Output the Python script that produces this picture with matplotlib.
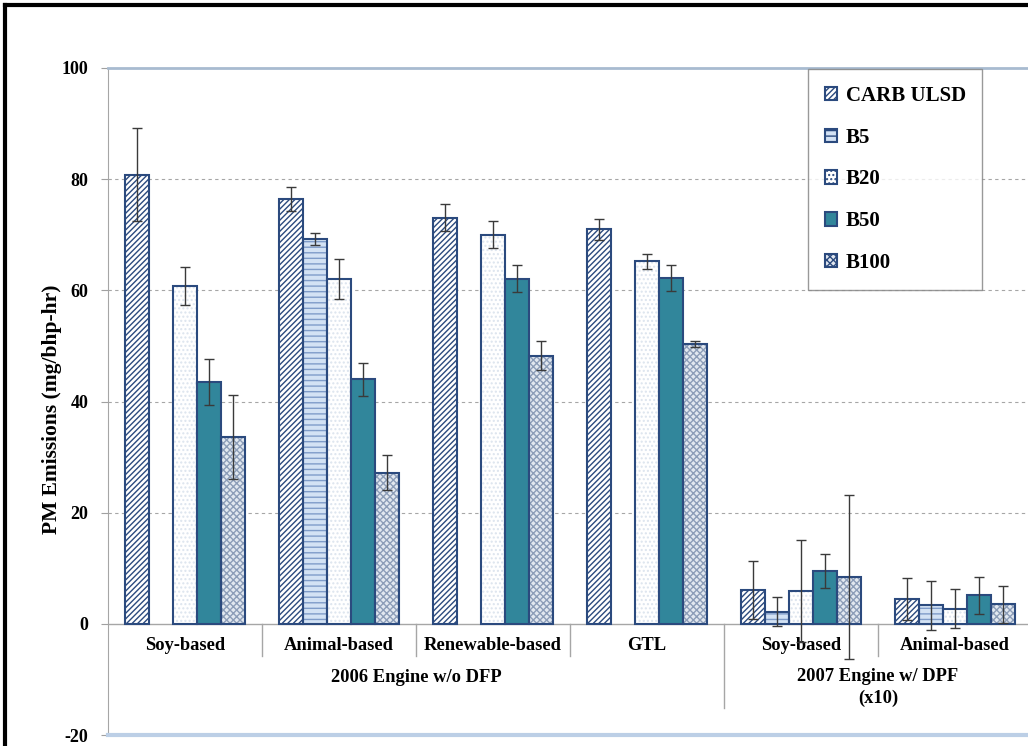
import numpy as np
import matplotlib
matplotlib.use("Agg")
import matplotlib.pyplot as plt
from matplotlib.patches import Patch
from matplotlib.lines import Line2D

# ---- data (mg/bhp-hr; 2007 engine values are x10) ----
categories = ['Soy-based', 'Animal-based', 'Renewable-based', 'GTL', 'Soy-based', 'Animal-based']
series_names = ['CARB ULSD', 'B5', 'B20', 'B50', 'B100']

carb = [80.8, 76.4, 73.1, 71.0, 6.1, 4.4]
carb_err = [8.4, 2.2, 2.5, 1.9, 5.2, 3.8]
b5 = [np.nan, 69.3, np.nan, np.nan, 2.2, 3.3]
b5_err = [np.nan, 1.1, np.nan, np.nan, 2.6, 4.4]
b20 = [60.8, 62.0, 70.0, 65.2, 5.9, 2.7]
b20_err = [3.4, 3.6, 2.4, 1.3, 9.2, 3.5]
b50 = [43.5, 44.0, 62.1, 62.2, 9.5, 5.1]
b50_err = [4.1, 3.0, 2.4, 2.3, 3.0, 3.4]
b100 = [33.6, 27.2, 48.2, 50.3, 8.4, 3.5]
b100_err = [7.5, 3.1, 2.6, 0.5, 14.8, 3.3]

engine_groups = ['2006 Engine w/o DFP', '2007 Engine w/ DPF\n(x10)']

values = [carb, b5, b20, b50, b100]
errors = [carb_err, b5_err, b20_err, b50_err, b100_err]

# ---- styles: (face, hatch, hatch colour) ----
navy = '#2B4A7E'
styles = [
    ('white', '//////', navy),
    ('#D3E2F4', '---', '#7F9CC9'),
    ('white', '....', '#DCE4EE'),
    ('#31869B', None, None),
    ('#E2E8F0', 'xxxxx', '#8C9DB8'),
]

plt.rcParams['font.family'] = ['Liberation Serif', 'DejaVu Serif']
plt.rcParams['font.weight'] = 'bold'
plt.rcParams['hatch.linewidth'] = 1.0
plt.rcParams['axes.unicode_minus'] = False

fig = plt.figure(figsize=(10.28, 7.46), dpi=100)
ax = fig.add_axes([108 / 1028, 11 / 746, 924 / 1028, 667 / 746])

x = np.arange(len(categories))
w = 0.156

for i, (vals, errs) in enumerate(zip(values, errors)):
    face, hatch, hcol = styles[i]
    pos = x + (i - 2) * w
    vals = np.array(vals, dtype=float)
    if hatch:
        ax.bar(pos, vals, w, color=face, hatch=hatch, edgecolor=hcol, linewidth=0, zorder=2)
        ax.bar(pos, vals, w, fill=False, edgecolor=navy, linewidth=1.5, zorder=3)
    else:
        ax.bar(pos, vals, w, color=face, edgecolor=navy, linewidth=1.5, zorder=3)
    ax.errorbar(pos, vals, yerr=np.array(errs, dtype=float), fmt='none',
                ecolor='#3A3A3A', elinewidth=1.0, capsize=3.5, capthick=1.0, zorder=4)

ax.set_xlim(-0.5, 5.5)
ax.set_ylim(-20, 100)
ax.set_yticks(np.arange(-20, 101, 20))
ax.set_xticks([])
ax.tick_params(axis='y', labelsize=13, direction='out', length=5, color='#A0A0A0', pad=9)

# grid
for yv in [20, 40, 60, 80]:
    ax.axhline(yv, color='#A6A6A6', linestyle=(0, (3, 3)), linewidth=0.8, zorder=1)
ax.axhline(0, color='#A6A6A6', linewidth=1.0, zorder=1)

ax.spines['right'].set_visible(False)
ax.spines['left'].set_color('#A6A6A6')
ax.spines['top'].set_color('#A8BBD0')
ax.spines['top'].set_linewidth(2)
ax.spines['bottom'].set_color('#BCCFE6')
ax.spines['bottom'].set_linewidth(3)

# category labels and separators
for xi, name in zip(x, categories):
    ax.text(xi, -3.9, name, ha='center', va='center', fontsize=13.3, fontweight='bold')
for xs in [0.5, 1.5, 2.5, 4.5]:
    ax.plot([xs, xs], [0, -5.8], color='#A6A6A6', linewidth=1.0)
ax.plot([3.5, 3.5], [0, -15.2], color='#A6A6A6', linewidth=1.0)

ax.text(1.5, -9.7, engine_groups[0], ha='center', va='center', fontsize=13.3, fontweight='bold')
ax.text(4.5, -8.0, engine_groups[1], ha='center', va='top', fontsize=13.3,
        fontweight='bold', linespacing=1.3)

fig.text(52 / 1028, 1 - 409 / 746, 'PM Emissions (mg/bhp-hr)', rotation=90,
         ha='center', va='center', fontsize=15.5, fontweight='bold')

# legend
handles = []
for face, hatch, hcol in styles:
    handles.append(Patch(facecolor=face, hatch=hatch, edgecolor=navy, linewidth=1.5))
leg = fig.legend(handles, series_names, loc='upper left', bbox_to_anchor=(808 / 1028, 1 - 69 / 746),
                 borderaxespad=0, fontsize=15, frameon=True, fancybox=False,
                 handlelength=0.6, handleheight=0.6, handletextpad=0.4,
                 labelspacing=1.05, borderpad=0.8)
leg.get_frame().set_edgecolor('#808080')
leg.get_frame().set_linewidth(1.0)
for t in leg.get_texts():
    t.set_fontweight('bold')

# outer frame
fig.add_artist(Line2D([5 / 1028, 5 / 1028], [0, 1 - 5 / 746], transform=fig.transFigure,
                      color='black', linewidth=3))
fig.add_artist(Line2D([5 / 1028, 1], [1 - 5 / 746, 1 - 5 / 746], transform=fig.transFigure,
                      color='black', linewidth=3))

fig.savefig('out.png', dpi=100)
